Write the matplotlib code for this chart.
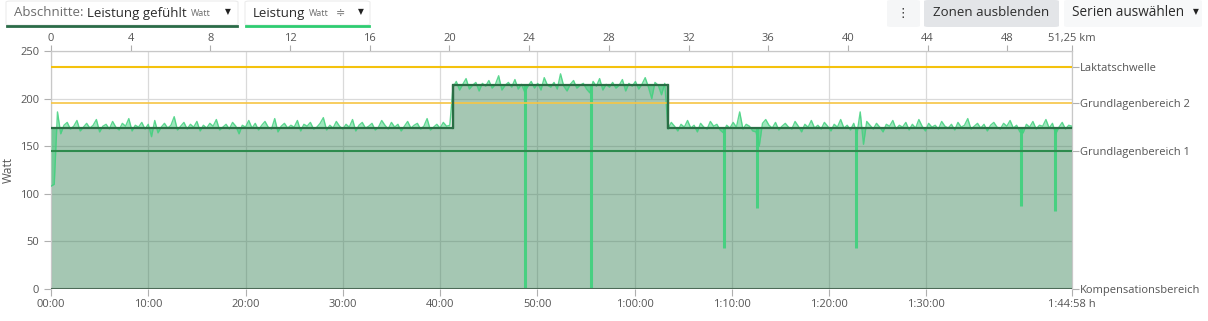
import numpy as np
import matplotlib
matplotlib.use("Agg")
import matplotlib.pyplot as plt
from matplotlib.patches import FancyBboxPatch

plt.rcParams['font.family'] = ['Open Sans', 'DejaVu Sans']

# ---------------- data ----------------
total_s = 6298            # 1:44:58
total_km = 51.25

# sections (Abschnitte: Leistung gefühlt)
section_bounds_s = [0, 2480, 3806, 6298]
section_watts = [169, 214, 169]

# power samples per section (Leistung, Watt)
power_sec1 = [108, 110, 186, 163, 172, 175, 168, 171, 177, 166,
              170, 174, 169, 172, 178, 165, 171, 173, 168, 176,
              170, 167, 174, 171, 179, 166, 172, 170, 175, 168,
              173, 160, 177, 164, 170, 174, 169, 172, 181, 167,
              171, 175, 168, 173, 170, 176, 166, 172, 169, 174,
              171, 178, 167, 170, 173, 168, 175, 171, 163, 172,
              170, 177, 169, 174, 167, 172, 176, 170, 168, 179,
              165, 171, 174, 169, 172, 170, 177, 166, 173, 171,
              175, 168, 170, 174, 180, 167, 172, 169, 176, 171,
              168, 173, 170, 178, 166, 172, 175, 169, 171, 174,
              167, 170, 177, 172, 168, 175, 170, 173, 166, 171,
              176, 169, 172, 174, 168, 171, 179, 167, 170, 173,
              169, 175, 171, 172]
power_sec2 = [212, 218, 209, 215, 221, 210, 214, 217, 208, 216,
              213, 219, 211, 215, 224, 209, 214, 217, 212, 220,
              210, 215, 207, 213, 218, 211, 216, 209, 222, 214,
              212, 217, 210, 226, 213, 208, 215, 219, 211, 214,
              216, 210, 206, 218, 213, 221, 209, 215, 212, 217,
              211, 214, 220, 208, 216, 213, 218, 210, 215, 222,
              212, 200, 217, 214, 204, 216]
power_sec3 = [168, 175, 171, 166, 173, 170, 177, 169, 172, 165,
              174, 170, 168, 176, 171, 173, 167, 164, 172, 169,
              175, 170, 186, 168, 173, 171, 166, 165, 150, 174,
              178, 172, 169, 175, 167, 171, 174, 170, 168, 176,
              171, 165, 173, 170, 177, 169, 172, 168, 175, 171,
              166, 173, 170, 178, 169, 172, 167, 174, 163, 186,
              152, 176, 172, 168, 174, 170, 165, 173, 171, 177,
              168, 172, 170, 175, 167, 173, 169, 178, 171, 166,
              174, 170, 172, 168, 176, 171, 169, 173, 167, 175,
              170, 172, 179, 168, 171, 174, 169, 173, 166, 172,
              175, 170, 168, 174, 171, 177, 169, 172, 165, 164,
              173, 170, 176, 168, 172, 171, 178, 169, 174, 163,
              170, 175, 168, 172, 171]

# short power dropouts (time in s, minimum Watt)
dropout_times_s = [2924, 3331, 4152, 4355, 4966, 5984, 6194]
dropout_watts = [0, 0, 43, 85, 43, 87, 82]

# zones
zone_names = ["Kompensationsbereich", "Grundlagenbereich 1", "Grundlagenbereich 2", "Laktatschwelle"]
zone_watts = [0, 145, 195, 233]
zone_colors = ["#4d6b58", "#2e8b4e", "#f6c544", "#f4c20d"]

# axes ticks
time_ticks_s = [0, 600, 1200, 1800, 2400, 3000, 3600, 4200, 4800, 5400, 6298]
time_labels = ["00:00", "10:00", "20:00", "30:00", "40:00", "50:00",
               "1:00:00", "1:10:00", "1:20:00", "1:30:00", "1:44:58 h"]
km_ticks = [0, 4, 8, 12, 16, 20, 24, 28, 32, 36, 40, 44, 48, 51.25]
km_labels = ["0", "4", "8", "12", "16", "20", "24", "28", "32", "36", "40", "44", "48", "51,25 km"]
watt_ticks = [0, 50, 100, 150, 200, 250]

# ---------------- build series ----------------
t_list, p_list, s_list = [], [], []
for i, vals in enumerate([power_sec1, power_sec2, power_sec3]):
    a, b = section_bounds_s[i], section_bounds_s[i + 1]
    tt = np.linspace(a, b, len(vals), endpoint=(i == 2))
    t_list.append(tt)
    p_list.append(np.array(vals, dtype=float))
    s_list.append(np.full(len(vals), section_watts[i], dtype=float))
t = np.concatenate(t_list)
p = np.concatenate(p_list)
sec = np.concatenate(s_list)

def section_at(ts):
    for i in range(len(section_watts)):
        if section_bounds_s[i] <= ts < section_bounds_s[i + 1]:
            return section_watts[i]
    return section_watts[-1]

st_x, st_y = [], []
for i, w in enumerate(section_watts):
    st_x += [section_bounds_s[i], section_bounds_s[i + 1]]
    st_y += [w, w]

W, H = 1208, 321
fig = plt.figure(figsize=(W / 100, H / 100), dpi=100)
fig.patch.set_facecolor("white")

def fx(x):
    return x / W

def fy(y):
    return 1 - y / H

ax = fig.add_axes([fx(51), fy(289), fx(1072) - fx(51), fy(51) - fy(289)])
ax.set_xlim(0, total_s)
ax.set_ylim(0, 250)
ax.set_axisbelow(True)
ax.grid(True, color="#dadada", linewidth=0.9)

# section fill
ax.fill_between(st_x, 0, st_y, color="#2f7d50", alpha=0.43, linewidth=0, zorder=2)
# power band relative to section
ax.fill_between(t, sec, p, color="#3fd07c", alpha=0.5, linewidth=0, zorder=3)
ax.plot(t, p, color="#43d17f", linewidth=1.0, alpha=0.85, zorder=4)
# dropouts
ax.vlines(dropout_times_s, dropout_watts, [section_at(d) for d in dropout_times_s],
          color="#43d17f", linewidth=2.2, alpha=0.95, zorder=4)

# zone lines
for name, w, c in zip(zone_names, zone_watts, zone_colors):
    lw = 1.5 if name != "Grundlagenbereich 2" else 1.2
    ax.axhline(w, color=c, linewidth=lw, zorder=5)

# section step line
ax.plot(st_x, st_y, color="#2a6e45", linewidth=1.6, zorder=6)
for i in range(1, len(section_watts)):
    ax.plot([section_bounds_s[i]] * 2, [section_watts[i - 1], section_watts[i]],
            color="#2a6e45", linewidth=1.6, zorder=6)

# spines
for s in ["top", "right", "left"]:
    ax.spines[s].set_color("#c8c8c8")
    ax.spines[s].set_linewidth(0.9)
ax.spines["bottom"].set_visible(False)

tick_color = "#555555"
ax.set_xticks(time_ticks_s)
ax.set_xticklabels(time_labels)
ax.set_yticks(watt_ticks)
ax.tick_params(axis="both", colors="#b0b0b0", labelcolor=tick_color, labelsize=8, length=5, width=0.8)
ax.tick_params(axis="x", pad=2)
ax.set_ylabel("Watt", fontsize=8.5, color=tick_color, labelpad=4)

# top km axis
top = ax.secondary_xaxis("top", functions=(lambda x: x * total_km / total_s,
                                            lambda k: k * total_s / total_km))
top.set_xticks(km_ticks)
top.set_xticklabels(km_labels)
top.tick_params(colors="#b0b0b0", labelcolor=tick_color, labelsize=8, length=4, width=0.8, pad=1)
top.spines["top"].set_visible(False)

# right zone labels
right = ax.secondary_yaxis("right")
right.set_yticks(zone_watts)
right.set_yticklabels(zone_names)
right.tick_params(colors="#b0b0b0", labelcolor=tick_color, labelsize=8, length=5, width=0.8, pad=1)
right.spines["right"].set_visible(False)

# ---------------- top toolbar ----------------
def box(x0, y0, x1, y1, fc, ec="none"):
    fig.patches.append(FancyBboxPatch((fx(x0), fy(y1)), fx(x1) - fx(x0), fy(y0) - fy(y1),
                                      boxstyle="round,pad=0,rounding_size=0.004",
                                      transform=fig.transFigure, facecolor=fc,
                                      edgecolor=ec, linewidth=0.8))

def line(x0, x1, y, color, lw):
    fig.lines.append(plt.Line2D([fx(x0), fx(x1)], [fy(y), fy(y)], transform=fig.transFigure,
                                color=color, linewidth=lw))

# dropdown 1
box(6, 1, 238, 25, "#ffffff", "#ececec")
line(7, 237, 25.5, "#2a6b47", 2.0)
fig.text(fx(14), fy(13), "Abschnitte:", fontsize=9.5, color="#6c6c6c", va="center", ha="left")
fig.text(fx(87), fy(13), "Leistung gefühlt", fontsize=9.5, color="#2b2b2b", va="center", ha="left")
fig.text(fx(191), fy(14), "Watt", fontsize=6.5, color="#6c6c6c", va="center", ha="left")
fig.text(fx(228), fy(12), "▼", fontsize=5.5, color="#222222", va="center", ha="center",
         family="DejaVu Sans")

# dropdown 2
box(245, 1, 370, 25, "#ffffff", "#ececec")
line(246, 369, 25.5, "#2ecc71", 2.0)
fig.text(fx(253), fy(13), "Leistung", fontsize=9.5, color="#2b2b2b", va="center", ha="left")
fig.text(fx(309), fy(14), "Watt", fontsize=6.5, color="#6c6c6c", va="center", ha="left")
fig.text(fx(341), fy(13), "≑", fontsize=8, color="#777777", va="center", ha="center",
         family="DejaVu Sans")
fig.text(fx(361), fy(12), "▼", fontsize=5.5, color="#222222", va="center", ha="center",
         family="DejaVu Sans")

# right buttons
box(887, 0, 920, 27, "#f5f6f7")
fig.text(fx(903), fy(13), "⋮", fontsize=9, color="#333333", va="center", ha="center",
         family="DejaVu Sans")
box(924, 0, 1059, 27, "#e3e5e8")
fig.text(fx(991), fy(13), "Zonen ausblenden", fontsize=9.5, color="#2b2b2b", va="center", ha="center")
box(1064, 0, 1202, 27, "#f7f8f9")
fig.text(fx(1072), fy(13), "Serien auswählen", fontsize=9.8, color="#2b2b2b", va="center", ha="left")
fig.text(fx(1196), fy(12), "▼", fontsize=5.5, color="#222222", va="center", ha="center",
         family="DejaVu Sans")

fig.savefig("out.png", dpi=100, facecolor="white")
